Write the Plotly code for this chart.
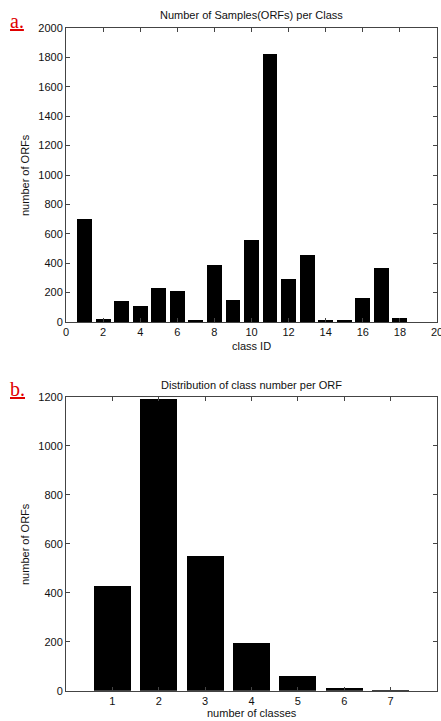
import plotly.graph_objects as go

# Panel a data
class_ids = list(range(1, 20))
samples_per_class = [700, 18, 140, 112, 228, 210, 10, 386, 152, 557, 1820, 293, 458, 7, 10, 165, 366, 25, 0]

# Panel b data
num_classes = [1, 2, 3, 4, 5, 6, 7]
orfs_per_count = [428, 1190, 551, 197, 61, 11, 4]

W, H = 441, 721
def py(pix):
    return 1 - pix / H

x0, x1 = 66 / W, 437 / W
font = dict(family="Liberation Sans, Arial, sans-serif", size=11, color="#111")
axcol = "#444"

fig = go.Figure()
fig.add_trace(go.Bar(x=class_ids, y=samples_per_class, width=0.8,
                     marker=dict(color="black", line=dict(width=0)),
                     xaxis="x", yaxis="y", showlegend=False))
fig.add_trace(go.Bar(x=num_classes, y=orfs_per_count, width=0.8,
                     marker=dict(color="black", line=dict(width=0)),
                     xaxis="x2", yaxis="y2", showlegend=False))

common = dict(showline=True, linecolor=axcol, linewidth=1, mirror="ticks",
              ticks="inside", ticklen=4, tickcolor=axcol, showgrid=False,
              zeroline=False, tickfont=font, ticklabeloverflow="allow",
              automargin=False)

def ann(text, x, y, **kw):
    d = dict(text=text, x=x, y=y, xref="paper", yref="paper",
             xanchor="center", yanchor="middle", showarrow=False, font=font)
    d.update(kw)
    return d

fig.update_layout(
    template="none",
    width=W, height=H, margin=dict(l=0, r=0, t=0, b=0, autoexpand=False),
    plot_bgcolor="white", paper_bgcolor="white", font=font,
    bargap=0,
    xaxis=dict(domain=[x0, x1], anchor="y", range=[0, 20], tickmode="array",
               tickvals=list(range(0, 21, 2)), **common),
    yaxis=dict(domain=[py(322), py(28)], anchor="x", range=[0, 2000],
               tickmode="array", tickvals=list(range(0, 2001, 200)), **common),
    xaxis2=dict(domain=[x0, x1], anchor="y2", range=[0, 8], tickmode="array",
                tickvals=num_classes, **common),
    yaxis2=dict(domain=[py(690.7), py(396.7)], anchor="x2", range=[0, 1200],
                tickmode="array", tickvals=list(range(0, 1201, 200)), **common),
    annotations=[
        ann("Number of Samples(ORFs) per Class", (x0 + x1) / 2, py(15)),
        ann("Distribution of class number per ORF", (x0 + x1) / 2, py(385)),
        ann("class ID", (x0 + x1) / 2, py(346)),
        ann("number of classes", (x0 + x1) / 2, py(713)),
        ann("number of ORFs", 25 / W, py(175), textangle=-90),
        ann("number of ORFs", 25 / W, py(544), textangle=-90),
        ann("<u>a.</u>", 8 / W, py(21), xanchor="left",
            font=dict(family="Liberation Serif, Times New Roman, serif", size=20, color="#e00000")),
        ann("<u>b.</u>", 8 / W, py(389), xanchor="left",
            font=dict(family="Liberation Serif, Times New Roman, serif", size=20, color="#e00000")),
    ],
)

fig.write_html("out.html")
